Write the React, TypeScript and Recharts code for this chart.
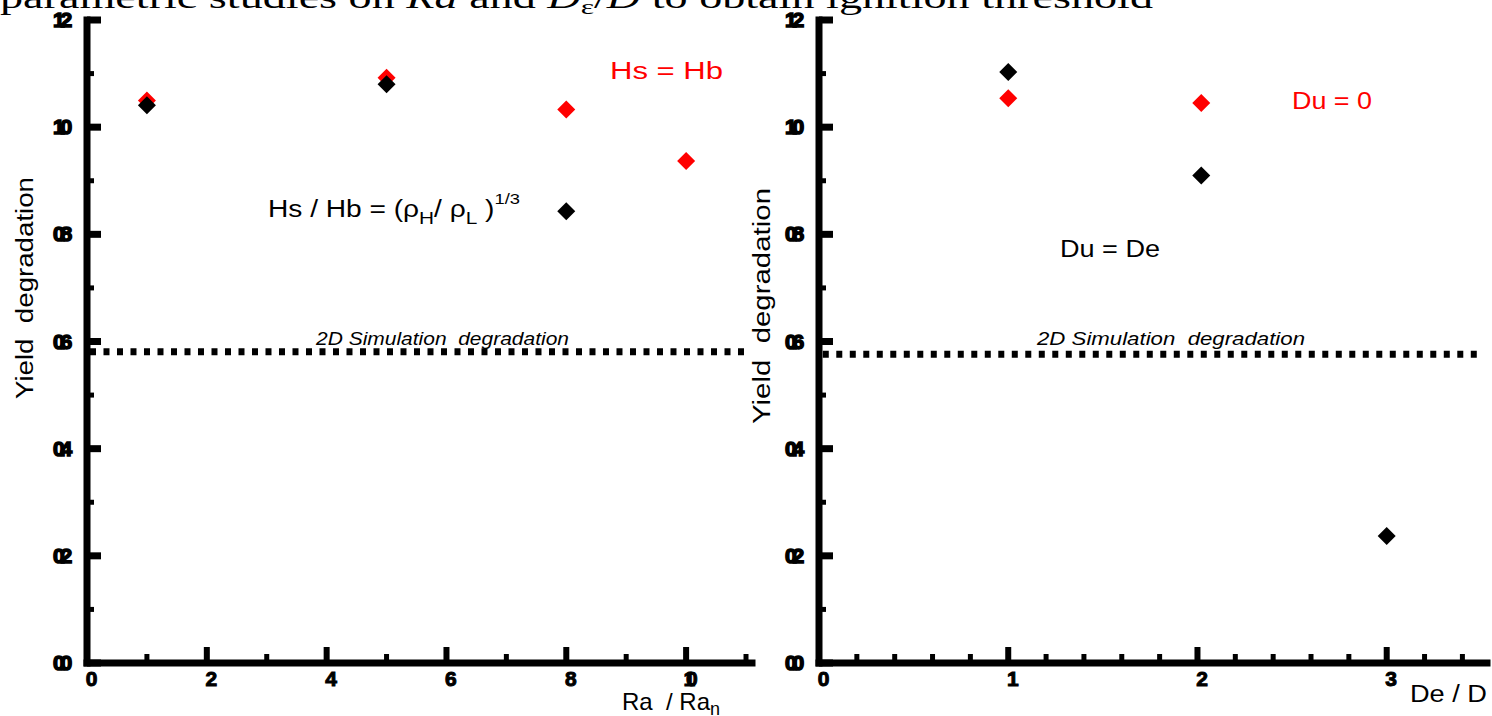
import React from 'react';
import { ScatterChart, Scatter, XAxis, YAxis, ReferenceLine } from 'recharts';

// Ra / Ra_n sweep
const raHsHb = [1, 5, 8, 10];
const yieldHsHb = [1.05, 1.092, 1.033, 0.937];
const raDensity = [1, 5, 8];
const yieldDensity = [1.041, 1.08, 0.843];

// De / D sweep
const deDu0 = [1, 2.02];
const yieldDu0 = [1.054, 1.045];
const deDuDe = [1, 2.02, 3];
const yieldDuDe = [1.103, 0.91, 0.237];

// 2D simulation reference level
const sim2dRa = 0.581;
const sim2dDe = 0.576;

const yTicks = [0, 0.1, 0.2, 0.3, 0.4, 0.5, 0.6, 0.7, 0.8, 0.9, 1.0, 1.1, 1.2];
const yTickLabels = ['0.0', '', '0.2', '', '0.4', '', '0.6', '', '0.8', '', '1.0', '', '1.2'];
const raTicks = [0, 1, 2, 3, 4, 5, 6, 7, 8, 9, 10, 11];
const raTickLabels = ['0', '', '2', '', '4', '', '6', '', '8', '', '10', ''];
const deTicks = [0, 0.2, 0.4, 0.6, 0.8, 1, 1.2, 1.4, 1.6, 1.8, 2, 2.2, 2.4, 2.6, 2.8, 3, 3.2, 3.4];
const deTickLabels = ['0', '', '', '', '', '1', '', '', '', '', '2', '', '', '', '', '3', '', ''];

const zip = (xs: number[], ys: number[]) => xs.map((x, i) => ({ x, y: ys[i] }));

const sans = "'Liberation Sans', Arial, sans-serif";
const pre = { whiteSpace: 'pre' as const };
const axisLine = { stroke: '#000', strokeWidth: 7, strokeLinecap: 'square' as const };

const diamond = (color: string) => (props: any) => {
  const { cx, cy } = props;
  const r = 9;
  return (
    <polygon
      points={`${cx},${cy - r} ${cx + r},${cy} ${cx},${cy + r} ${cx - r},${cy}`}
      fill={color}
    />
  );
};

// tick marks point into the plot; labels are heavy and squashed together
const makeYTick = (labels: string[]) => (props: any) => {
  const { x, y, index } = props;
  const label = labels[index];
  const major = label !== '';
  return (
    <g>
      <line x1={x} x2={x + (major ? 14 : 7)} y1={y} y2={y} stroke="#000" strokeWidth={major ? 7 : 5} />
      {major && (
        <text
          x={x - 34}
          y={y + 7}
          fontFamily={sans}
          fontWeight={900}
          fontSize={21}
          letterSpacing={-5}
          stroke="#000"
          strokeWidth={1.5}
          fill="#000"
        >
          {label}
        </text>
      )}
    </g>
  );
};

const makeXTick = (labels: string[]) => (props: any) => {
  const { x, y, index } = props;
  const label = labels[index];
  const major = label !== '';
  return (
    <g>
      <line x1={x} x2={x} y1={y} y2={y - (major ? 16 : 9)} stroke="#000" strokeWidth={major ? 6 : 5} />
      {major && (
        <text
          x={x}
          y={y + 23}
          textAnchor="middle"
          fontFamily={sans}
          fontWeight={900}
          fontSize={21}
          letterSpacing={-9}
          stroke="#000"
          strokeWidth={1}
          fill="#000"
        >
          {label}
        </text>
      )}
    </g>
  );
};

const Overlay = () => (
  <svg
    width={1492}
    height={716}
    style={{ position: 'absolute', left: 0, top: 0, pointerEvents: 'none' }}
  >
    <text
      x={0}
      y={8}
      fontFamily="'Liberation Serif', 'DejaVu Serif', serif"
      fontSize={32}
      textLength={1153}
      lengthAdjust="spacingAndGlyphs"
    >
      parametric studies on <tspan fontStyle="italic">Ra</tspan> and <tspan fontStyle="italic">D</tspan>
      <tspan fontSize={22} dy={6}>ε</tspan>
      <tspan dy={-6}>/</tspan>
      <tspan fontStyle="italic">D</tspan> to obtain ignition threshold
    </text>

    {/* left panel annotations */}
    <text x={610} y={79} fontFamily={sans} fontSize={23} fill="#ff0000" textLength={113} lengthAdjust="spacingAndGlyphs">
      Hs = Hb
    </text>
    <text x={268} y={217} fontFamily={sans} fontSize={23} fill="#000" textLength={252} lengthAdjust="spacingAndGlyphs">
      Hs / Hb = (ρ
      <tspan fontSize={17} dy={7}>H</tspan>
      <tspan dy={-7}>/ ρ</tspan>
      <tspan fontSize={17} dy={7}>L</tspan>
      <tspan dy={-7}> )</tspan>
      <tspan fontSize={15} dy={-13}>1/3</tspan>
    </text>
    <text x={316} y={345} style={pre} fontFamily={sans} fontStyle="italic" fontSize={18} textLength={253} lengthAdjust="spacingAndGlyphs">
      {'2D Simulation  degradation'}
    </text>
    <text
      transform="translate(33,288) rotate(-90)"
      textAnchor="middle"
      style={pre}
      fontFamily={sans}
      fontSize={23}
      textLength={222}
      lengthAdjust="spacingAndGlyphs"
    >
      {'Yield  degradation'}
    </text>
    <text x={622} y={710} style={pre} fontFamily={sans} fontSize={24}>
      {'Ra  / Ra'}<tspan fontSize={18} dy={5}>n</tspan>
    </text>

    {/* right panel annotations */}
    <text x={1292} y={109} fontFamily={sans} fontSize={23} fill="#ff0000" textLength={80} lengthAdjust="spacingAndGlyphs">
      Du = 0
    </text>
    <text x={1060} y={257} fontFamily={sans} fontSize={23} fill="#000" textLength={100} lengthAdjust="spacingAndGlyphs">
      Du = De
    </text>
    <text x={1037} y={345} style={pre} fontFamily={sans} fontStyle="italic" fontSize={18} textLength={268} lengthAdjust="spacingAndGlyphs">
      {'2D Simulation  degradation'}
    </text>
    <text
      transform="translate(770,306) rotate(-90)"
      textAnchor="middle"
      style={pre}
      fontFamily={sans}
      fontSize={23}
      textLength={236}
      lengthAdjust="spacingAndGlyphs"
    >
      {'Yield  degradation'}
    </text>
    <text x={1410} y={702} fontFamily={sans} fontSize={23} textLength={77} lengthAdjust="spacingAndGlyphs">
      De / D
    </text>
  </svg>
);

export default function App() {
  return (
    <div style={{ position: 'absolute', left: 0, top: 0, width: 1492, height: 716, overflow: 'hidden', background: '#fff' }}>
      <div style={{ position: 'absolute', left: 0, top: 0 }}>
        <ScatterChart width={760} height={716} margin={{ top: 20, right: 8, bottom: 23, left: 27 }}>
          <XAxis
            type="number"
            dataKey="x"
            domain={[0, 11.1]}
            ticks={raTicks}
            height={30}
            tickSize={0}
            tickMargin={0}
            tickLine={false}
            axisLine={axisLine}
            tick={makeXTick(raTickLabels)}
            interval={0}
          />
          <YAxis
            type="number"
            dataKey="y"
            domain={[0, 1.2]}
            ticks={yTicks}
            width={60}
            tickSize={0}
            tickMargin={0}
            tickLine={false}
            axisLine={axisLine}
            tick={makeYTick(yTickLabels)}
            interval={0}
          />
          <ReferenceLine
            segment={[{ x: 0.05, y: sim2dRa }, { x: 11, y: sim2dRa }]}
            stroke="#000"
            strokeWidth={7}
            strokeDasharray="6 7.5"
          />
          <Scatter data={zip(raHsHb, yieldHsHb)} shape={diamond('#ff0000')} isAnimationActive={false} />
          <Scatter data={zip(raDensity, yieldDensity)} shape={diamond('#000000')} isAnimationActive={false} />
        </ScatterChart>
      </div>
      <div style={{ position: 'absolute', left: 760, top: 0 }}>
        <ScatterChart width={732} height={716} margin={{ top: 20, right: 5, bottom: 23, left: 0 }}>
          <XAxis
            type="number"
            dataKey="x"
            domain={[0, 3.53]}
            ticks={deTicks}
            height={30}
            tickSize={0}
            tickMargin={0}
            tickLine={false}
            axisLine={axisLine}
            tick={makeXTick(deTickLabels)}
            interval={0}
          />
          <YAxis
            type="number"
            dataKey="y"
            domain={[0, 1.2]}
            ticks={yTicks}
            width={59}
            tickSize={0}
            tickMargin={0}
            tickLine={false}
            axisLine={axisLine}
            tick={makeYTick(yTickLabels)}
            interval={0}
          />
          <ReferenceLine
            segment={[{ x: 0.02, y: sim2dDe }, { x: 3.5, y: sim2dDe }]}
            stroke="#000"
            strokeWidth={7}
            strokeDasharray="6 7.5"
          />
          <Scatter data={zip(deDu0, yieldDu0)} shape={diamond('#ff0000')} isAnimationActive={false} />
          <Scatter data={zip(deDuDe, yieldDuDe)} shape={diamond('#000000')} isAnimationActive={false} />
        </ScatterChart>
      </div>
      <Overlay />
    </div>
  );
}
